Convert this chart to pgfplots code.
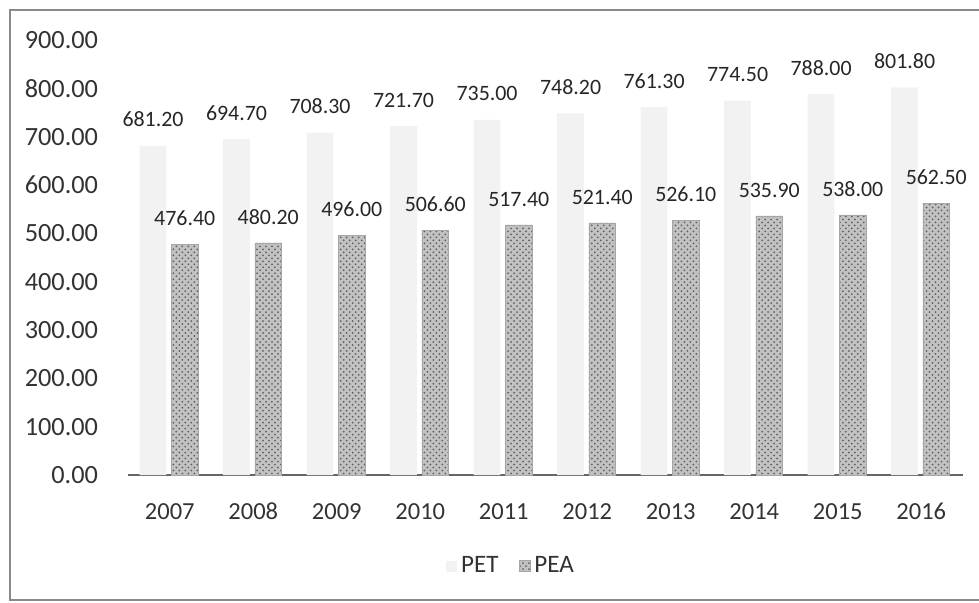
\documentclass[border=0pt]{standalone}
\usepackage{pgfplots}
\pgfplotsset{compat=1.18}
\usepackage{fontspec}
\setmainfont{Carlito}
\usetikzlibrary{patterns}
\definecolor{petfill}{HTML}{F2F2F2}
\definecolor{peafill}{HTML}{C2C2C2}
\definecolor{framegray}{HTML}{8A8A8A}
\begin{document}
\begin{tikzpicture}[x=1bp,y=1bp]
  % page size 979x602 px at 0.5bp/px, axis box corner at px (128,475)
  \path[use as bounding box] (-64,-63.5) rectangle (425.5,237.5);
  \draw[framegray, line width=0.8pt] (425.5,232.5) -- (-59,232.5) -- (-59,-62.5) -- (425.5,-62.5);
  \begin{axis}[
      at={(0,0)}, anchor=south west,
      scale only axis,
      width=417.5bp, height=217.5bp,
      ymin=0, ymax=900,
      xmin=-0.5, xmax=9.5,
      ytick={0,100,...,900},
      xtick={0,...,9},
      xticklabels={2007,2008,2009,2010,2011,2012,2013,2014,2015,2016},
      axis lines*=left,
      axis line style={-},
      y axis line style={draw=none},
      x axis line style={draw=gray!80!black, line width=0.7pt},
      major tick length=0pt,
      /pgf/number format/.cd, fixed, fixed zerofill, precision=2, assume math mode=true,
      /pgfplots/.cd,
      yticklabel style={font=\fontsize{13.2}{15}\selectfont, text=black!80, xshift=-11.5pt},
      xticklabel style={font=\fontsize{12.3}{14}\selectfont, text=black!80,
        text height=1.5ex, text depth=0.2ex, yshift=-11.5pt},
      ybar, bar width=0.32,
      nodes near coords,
      every node near coord/.append style={font=\fontsize{11}{13}\selectfont, text=black!85,
        text height=1.5ex, text depth=0.2ex, yshift=5pt},
      legend style={at={(192bp,-45.5bp)}, anchor=center, draw=none, fill=none,
        legend columns=2, font=\fontsize{12.6}{14}\selectfont, text=black!80,
        /tikz/every even column/.append style={column sep=8pt}},
      legend image code/.code={\fill[#1] (0bp,-2.75bp) rectangle (5.5bp,2.75bp);},
    ]
    % PET
    \addplot[bar shift=-0.2, fill=petfill, draw=none] coordinates {
      (0,681.20) (1,694.70) (2,708.30) (3,721.70) (4,735.00)
      (5,748.20) (6,761.30) (7,774.50) (8,788.00) (9,801.80)
    };
    % PEA
    \addplot[bar shift=0.18, fill=peafill, draw=gray!70,
      postaction={pattern=crosshatch dots, pattern color=gray!75!black}] coordinates {
      (0,476.40) (1,480.20) (2,496.00) (3,506.60) (4,517.40)
      (5,521.40) (6,526.10) (7,535.90) (8,538.00) (9,562.50)
    };
    \legend{PET, PEA}
  \end{axis}
\end{tikzpicture}
\end{document}
